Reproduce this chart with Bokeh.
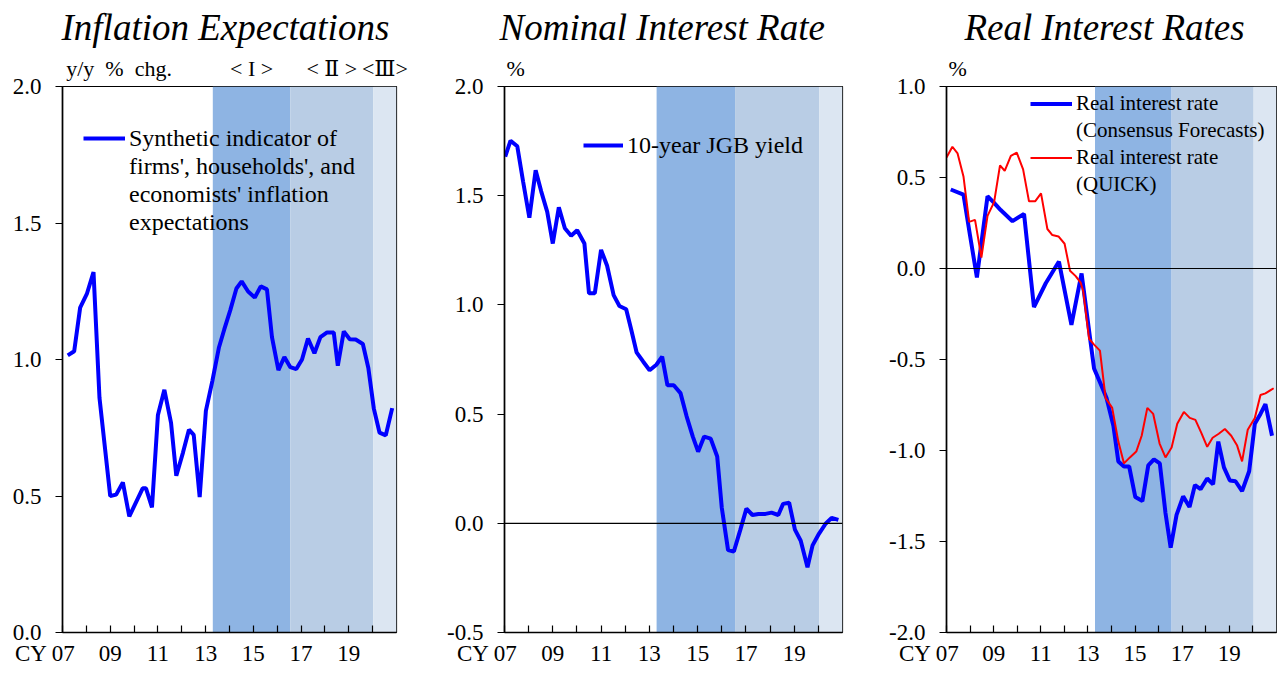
from bokeh.plotting import figure
from bokeh.layouts import row
from bokeh.models import (BoxAnnotation, Span, Legend, LegendItem, LinearAxis,
                          FixedTicker, NumeralTickFormatter, Range1d)
from bokeh.embed import file_html
from bokeh.resources import INLINE

FONT = "Liberation Serif"
NB = "\u00a0"

# ---------------- data ----------------
years = list(range(2007, 2021))
year_labels = {2007: "CY 07" + NB * 6, 2009: "09", 2011: "11", 2013: "13", 2015: "15", 2017: "17", 2019: "19"}

period_names = ["< I >", "< \u2161 >", "<\u2162>"]
period_starts = [2013.3, 2016.55, 2020.03]
period_ends = [2016.55, 2020.03, 2021.0]

infl_dates = [2007.22, 2007.49, 2007.74, 2008.02, 2008.30, 2008.55, 2009.00, 2009.25, 2009.53, 2009.80,
              2010.08, 2010.36, 2010.50, 2010.75, 2011.00, 2011.27, 2011.55, 2011.77, 2012.05, 2012.30,
              2012.50, 2012.75, 2013.01, 2013.28, 2013.56, 2013.78, 2014.03, 2014.29, 2014.51, 2014.78,
              2015.06, 2015.31, 2015.57, 2015.78, 2016.05, 2016.30, 2016.55, 2016.80, 2017.04, 2017.29,
              2017.56, 2017.81, 2018.09, 2018.37, 2018.54, 2018.79, 2019.04, 2019.29, 2019.59, 2019.82,
              2020.05, 2020.29, 2020.55, 2020.82]
infl_values = [1.015, 1.03, 1.19, 1.24, 1.32, 0.86, 0.50, 0.505, 0.55, 0.425,
               0.477, 0.528, 0.528, 0.458, 0.797, 0.889, 0.768, 0.574, 0.659, 0.743,
               0.724, 0.496, 0.812, 0.921, 1.045, 1.11, 1.18, 1.26, 1.286, 1.249,
               1.227, 1.268, 1.257, 1.082, 0.961, 1.009, 0.972, 0.965, 1.0, 1.077,
               1.023, 1.082, 1.099, 1.099, 0.977, 1.103, 1.074, 1.073, 1.057, 0.969,
               0.82, 0.732, 0.722, 0.822]

jgb_dates = [2007.03, 2007.25, 2007.53, 2007.77, 2008.03, 2008.29, 2008.52, 2008.77, 2009.00, 2009.25,
             2009.50, 2009.76, 2010.01, 2010.31, 2010.50, 2010.74, 2011.00, 2011.25, 2011.52, 2011.76,
             2012.04, 2012.25, 2012.47, 2012.74, 2013.01, 2013.29, 2013.53, 2013.75, 2014.01, 2014.29,
             2014.54, 2014.80, 2015.02, 2015.27, 2015.54, 2015.81, 2016.00, 2016.26, 2016.50, 2016.77,
             2017.02, 2017.27, 2017.52, 2017.81, 2018.06, 2018.34, 2018.54, 2018.79, 2019.03, 2019.27,
             2019.55, 2019.76, 2020.03, 2020.30, 2020.55, 2020.83]
jgb_values = [1.679, 1.752, 1.726, 1.565, 1.399, 1.616, 1.52, 1.426, 1.281, 1.447,
              1.351, 1.317, 1.342, 1.281, 1.053, 1.053, 1.252, 1.179, 1.045, 0.995,
              0.98, 0.886, 0.783, 0.741, 0.701, 0.726, 0.763, 0.632, 0.632, 0.596,
              0.491, 0.397, 0.328, 0.397, 0.388, 0.306, 0.071, -0.123, -0.129, -0.029,
              0.067, 0.038, 0.043, 0.043, 0.049, 0.038, 0.089, 0.094, -0.029, -0.080,
              -0.201, -0.101, -0.047, -0.002, 0.025, 0.016]

cf_dates = [2007.18, 2007.72, 2008.00, 2008.29, 2008.53, 2008.74, 2008.99, 2009.30, 2009.80, 2010.29,
            2010.71, 2011.21, 2011.77, 2012.30, 2012.73, 2013.26, 2013.51, 2013.79, 2014.08, 2014.29,
            2014.53, 2014.75, 2015.01, 2015.31, 2015.56, 2015.80, 2016.05, 2016.29, 2016.51, 2016.76,
            2017.04, 2017.31, 2017.54, 2017.78, 2018.06, 2018.31, 2018.53, 2018.77, 2019.02, 2019.26,
            2019.54, 2019.84, 2020.08, 2020.32, 2020.53, 2020.81]
cf_values = [0.434, 0.406, 0.18, -0.049, 0.19, 0.397, 0.365, 0.321, 0.26, 0.30,
             -0.212, -0.081, 0.038, -0.31, -0.027, -0.549, -0.625, -0.712, -0.864, -1.06,
             -1.088, -1.088, -1.256, -1.278, -1.082, -1.049, -1.071, -1.343, -1.534, -1.354,
             -1.252, -1.31, -1.19, -1.212, -1.154, -1.186, -0.951, -1.093, -1.165, -1.169,
             -1.223, -1.114, -0.853, -0.799, -0.745, -0.919]

quick_dates = [2007.00, 2007.25, 2007.47, 2007.72, 2007.96, 2008.21, 2008.48, 2008.74, 2009.02, 2009.27,
               2009.47, 2009.73, 2009.98, 2010.25, 2010.50, 2010.76, 2011.01, 2011.28, 2011.49, 2011.75,
               2012.01, 2012.24, 2012.48, 2012.69, 2012.80, 2013.05, 2013.26, 2013.51, 2013.75, 2014.03,
               2014.29, 2014.53, 2014.78, 2015.05, 2015.28, 2015.52, 2015.77, 2016.04, 2016.29, 2016.55,
               2016.79, 2017.07, 2017.32, 2017.56, 2017.81, 2018.06, 2018.29, 2018.55, 2018.81, 2019.08,
               2019.33, 2019.54, 2019.78, 2020.08, 2020.32, 2020.53, 2020.88]
quick_values = [0.61, 0.669, 0.632, 0.506, 0.256, 0.267, 0.06, 0.289, 0.365, 0.567,
                0.537, 0.619, 0.637, 0.545, 0.369, 0.369, 0.413, 0.217, 0.184, 0.176,
                0.136, -0.012, -0.042, -0.077, -0.125, -0.386, -0.418, -0.451, -0.712, -0.766,
                -0.951, -1.071, -1.038, -1.006, -0.919, -0.766, -0.799, -0.962, -1.038, -0.984,
                -0.853, -0.788, -0.821, -0.832, -0.903, -0.98, -0.93, -0.908, -0.882, -0.919,
                -0.973, -1.06, -0.886, -0.821, -0.695, -0.686, -0.658]

legend1_lines = ["Synthetic indicator of", "firms', households', and", "economists' inflation", "expectations"]
legend2_lines = ["10-year JGB yield"]
legend3a_lines = ["Real interest rate", "(Consensus Forecasts)"]
legend3b_lines = ["Real interest rate", "(QUICK)"]

# ---------------- styling ----------------
PERIOD_COLORS = ["#8EB4E3", "#B9CDE5", "#DCE6F2"]
BLUE = "#0000FF"
RED = "#FF0000"
B_TOP = 86
B_BOT = 40
FRAME_H = 546
FIG_H = B_TOP + FRAME_H + B_BOT


def make_panel(title, width, bl, br, ylo, yhi, unit, unit_x, title_dx, show_periods):
    p = figure(width=width, height=FIG_H, output_backend="svg", toolbar_location=None,
               x_range=Range1d(2007, 2021), y_range=Range1d(ylo, yhi),
               min_border_left=bl, min_border_right=br, min_border_top=B_TOP, min_border_bottom=B_BOT,
               title=title)
    p.grid.visible = False
    p.outline_line_color = "black"
    p.outline_line_width = 1.2
    p.title.align = "left"
    p.title.offset = title_dx
    p.title.text_font = FONT
    p.title.text_font_size = "37px"
    p.title.text_font_style = "italic"
    p.title.text_color = "black"
    p.title.standoff = 9

    for s, e, c in zip(period_starts, period_ends, PERIOD_COLORS):
        p.add_layout(BoxAnnotation(left=s, right=e, fill_color=c, fill_alpha=1.0,
                                   line_alpha=0, level="underlay"))

    xa = p.xaxis[0]
    xa.ticker = FixedTicker(ticks=years)
    xa.major_label_overrides = {y: year_labels.get(y, "") for y in years}
    xa.major_tick_in = 7
    xa.major_tick_out = 0
    xa.minor_tick_line_color = None
    xa.major_label_standoff = 8
    ya = p.yaxis[0]
    n = int(round((yhi - ylo) / 0.5))
    ya.ticker = FixedTicker(ticks=[round(ylo + 0.5 * i, 2) for i in range(n + 1)])
    ya.formatter = NumeralTickFormatter(format="0.0")
    ya.major_tick_in = 0
    ya.major_tick_out = 7
    ya.minor_tick_line_color = None
    ya.major_label_standoff = 14
    for a in (xa, ya):
        a.axis_line_color = "black"
        a.axis_line_width = 1.6
        a.major_tick_line_color = "black"
        a.major_tick_line_width = 1.2
        a.major_label_text_font = FONT
        a.major_label_text_font_size = "23px"
        a.major_label_text_color = "black"

    # top annotation axis: unit and period names
    ticks = [unit_x]
    labels = {unit_x: unit}
    if show_periods:
        for s, e, nme in zip(period_starts, period_ends, period_names):
            c = round((s + e) / 2, 3)
            ticks.append(c)
            labels[c] = nme
    ta = LinearAxis(ticker=FixedTicker(ticks=ticks), major_label_overrides=labels,
                    axis_line_color=None, major_tick_line_color=None, minor_tick_line_color=None,
                    major_tick_in=0, major_tick_out=0,
                    major_label_standoff=6, major_label_text_font="Liberation Serif, DejaVu Serif",
                    major_label_text_font_size="22px", major_label_text_color="black")
    p.add_layout(ta, "above")
    return p


def style_legend(lg, fs, lh, gw):
    lg.background_fill_alpha = 0
    lg.border_line_alpha = 0
    lg.padding = 0
    lg.margin = 0
    lg.spacing = 0
    lg.glyph_width = gw
    lg.glyph_height = lh
    lg.label_height = lh
    lg.label_standoff = 4
    lg.label_text_font = FONT
    lg.label_text_font_size = fs
    lg.label_text_baseline = "middle"
    lg.label_text_color = "black"


def legend_items(p, lines, renderer):
    ghost = p.line([], [], line_alpha=0)
    items = [LegendItem(label=lines[0], renderers=[renderer])]
    for t in lines[1:]:
        items.append(LegendItem(label=t, renderers=[ghost]))
    return items


# panel 1
p1 = make_panel("Inflation Expectations", 440, 62, 44, 0.0, 2.0,
                "y/y" + NB * 2 + "%" + NB * 2 + "chg.", 2009.37, -1, True)
r1 = p1.line(infl_dates, infl_values, line_color=BLUE, line_width=4)
lg1 = Legend(items=legend_items(p1, legend1_lines, r1), location=(21, 396))
style_legend(lg1, "24px", 28, 42)
p1.add_layout(lg1)

# panel 2
p2 = make_panel("Nominal Interest Rate", 445, 64, 43, -0.5, 2.0, "%", 2007.46, -5, False)
p2.add_layout(Span(location=0, dimension="width", line_color="black", line_width=1.2))
r2 = p2.line(jgb_dates, jgb_values, line_color=BLUE, line_width=4)
lg2 = Legend(items=legend_items(p2, legend2_lines, r2), location=(79, 473))
style_legend(lg2, "24px", 28, 40)
p2.add_layout(lg2)

# panel 3
p3 = make_panel("Real Interest Rates", 392, 61, 1, -2.0, 1.0, "%", 2007.47, 18, False)
p3.add_layout(Span(location=0, dimension="width", line_color="black", line_width=1.2))
r3b = p3.line(cf_dates, cf_values, line_color=BLUE, line_width=4)
r3r = p3.line(quick_dates, quick_values, line_color=RED, line_width=2)
lg3 = Legend(items=legend_items(p3, legend3a_lines, r3b) + legend_items(p3, legend3b_lines, r3r),
             location=(84, 434))
style_legend(lg3, "21px", 27, 42)
p3.add_layout(lg3)

layout = row(p1, p2, p3, spacing=0)
open("out.html", "w").write(file_html(layout, INLINE))
